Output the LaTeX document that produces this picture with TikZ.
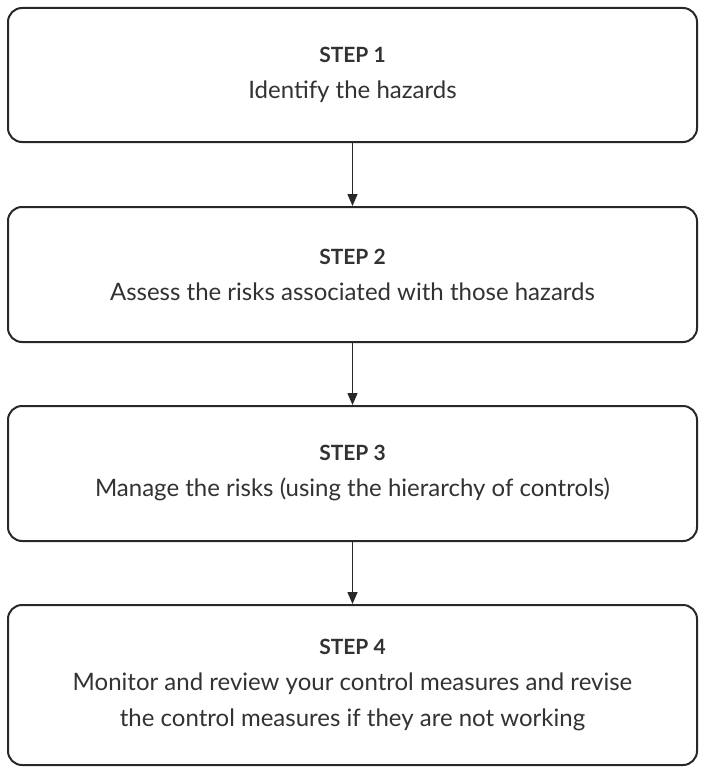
\documentclass[tikz,border=0pt]{standalone}
\usepackage{fontspec}
\setmainfont{Lato}
\usetikzlibrary{arrows.meta,positioning}
\tikzset{every picture/.style={line width=2pt}}
\tikzset{stepbox/.style={draw={rgb,255:red,40;green,40;blue,40}, rounded corners=14pt, minimum width=689pt, align=center, font=\fontsize{24}{36}\selectfont, text={rgb,255:red,50;green,50;blue,50}},
  flow/.style={draw={rgb,255:red,40;green,40;blue,40}, line width=1.5pt, -{Triangle[length=12pt,width=10pt]}}}

\begin{document}
\begin{tikzpicture}[x=1pt,y=1pt,yscale=-1,xscale=1]
\useasboundingbox (0,0) rectangle (706,773);

% Steps
\node [stepbox, minimum height=134pt] (s1) at (352.5,75) {{\bfseries\fontsize{21}{36}\selectfont STEP 1}\\Identify the hazards};
\node [stepbox, minimum height=135pt] (s2) at (352.5,274.5) {{\bfseries\fontsize{21}{36}\selectfont STEP 2}\\Assess the risks associated with those hazards};
\node [stepbox, minimum height=135pt] (s3) at (352.5,473.5) {{\bfseries\fontsize{21}{36}\selectfont STEP 3}\\Manage the risks (using the hierarchy of controls)};
\node [stepbox, minimum height=160pt] (s4) at (352.5,685) {{\bfseries\fontsize{21}{36}\selectfont STEP 4}\\Monitor and review your control measures and revise\\the control measures if they are not working};

% Arrows
\draw [flow] (s1) -- (s2);
\draw [flow] (s2) -- (s3);
\draw [flow] (s3) -- (s4);

\end{tikzpicture}
\end{document}
